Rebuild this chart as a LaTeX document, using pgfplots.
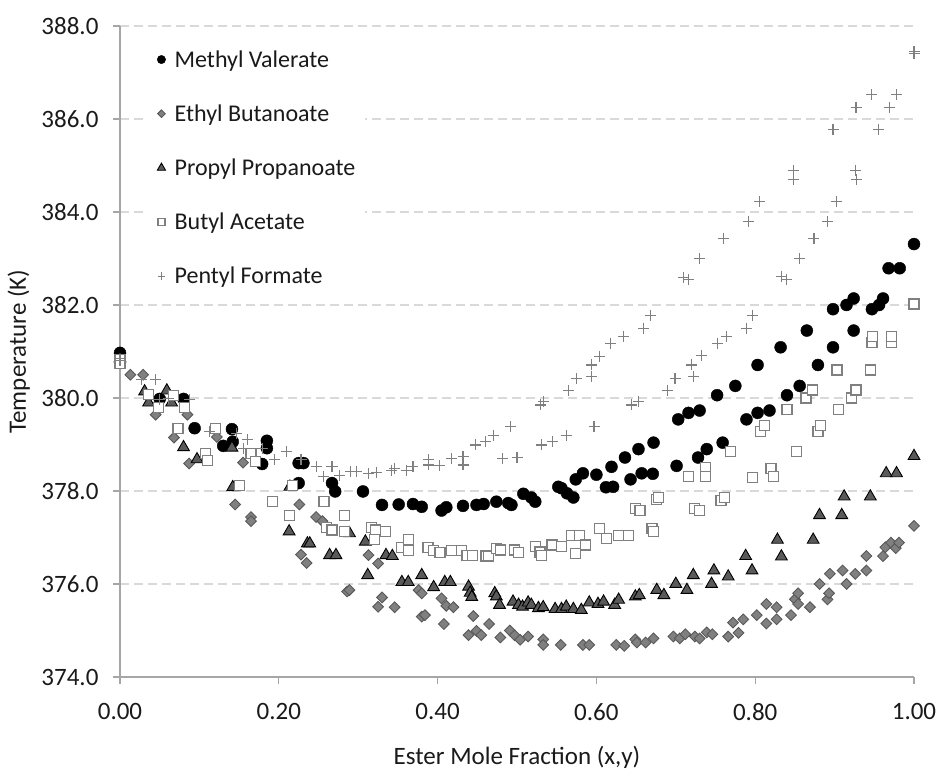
\documentclass[border=0pt]{standalone}
\usepackage{fontspec}
\setmainfont{Carlito}
\usepackage{pgfplots}
\usepackage{pgfplotstable}
\pgfplotsset{compat=1.18}

\definecolor{gridgray}{HTML}{D9D9D9}
\definecolor{axisgray}{HTML}{A6A6A6}
\definecolor{txt}{HTML}{1A1A1A}
\definecolor{midgray}{HTML}{808080}
\definecolor{dkgray}{HTML}{5A5A5A}
\definecolor{edgegray}{HTML}{595959}

% Methyl Valerate
\pgfplotstableread{
x y
0.000 380.97
0.050 379.98
0.080 379.98
0.094 379.35
0.130 378.97
0.141 379.33
0.142 379.06
0.179 378.58
0.185 379.08
0.185 378.92
0.225 378.60
0.231 378.60
0.225 378.17
0.267 378.17
0.271 377.99
0.306 377.99
0.330 377.70
0.351 377.71
0.369 377.72
0.380 377.66
0.405 377.58
0.411 377.65
0.432 377.68
0.449 377.70
0.458 377.72
0.474 377.77
0.489 377.74
0.493 377.70
0.508 377.94
0.518 377.86
0.523 377.77
0.552 378.09
0.556 378.06
0.563 377.95
0.571 377.86
0.574 378.25
0.583 378.38
0.600 378.35
0.612 378.08
0.621 378.09
0.619 378.52
0.636 378.72
0.643 378.25
0.657 378.38
0.671 378.37
0.653 378.90
0.672 379.04
0.701 378.54
0.703 379.54
0.716 379.68
0.730 379.73
0.728 378.72
0.739 378.90
0.752 380.06
0.759 379.04
0.775 380.26
0.789 379.54
0.803 379.68
0.818 379.73
0.803 380.71
0.832 381.09
0.840 380.06
0.856 380.26
0.865 381.45
0.879 380.71
0.898 381.09
0.898 381.91
0.915 382.00
0.924 382.14
0.924 381.45
0.947 381.91
0.956 382.00
0.961 382.14
0.968 382.79
0.982 382.79
1.000 383.31
}\mvdata

% Ethyl Butanoate
\pgfplotstableread{
x y
0.000 380.80
0.013 380.50
0.029 380.50
0.045 379.64
0.068 379.15
0.085 379.64
0.087 378.59
0.122 379.16
0.145 377.71
0.155 378.61
0.165 377.44
0.165 377.35
0.226 377.71
0.228 376.63
0.235 376.45
0.247 377.44
0.255 377.35
0.286 375.84
0.289 375.87
0.313 376.62
0.325 376.44
0.330 375.71
0.325 375.51
0.346 375.50
0.376 375.87
0.380 375.80
0.380 375.30
0.384 375.33
0.405 375.69
0.408 375.14
0.411 375.53
0.420 375.50
0.439 374.90
0.445 375.31
0.449 374.99
0.455 374.90
0.465 375.14
0.479 374.85
0.491 375.00
0.497 374.90
0.504 374.80
0.514 374.87
0.533 374.81
0.533 374.69
0.555 374.69
0.583 374.69
0.591 374.69
0.625 374.69
0.635 374.67
0.649 374.81
0.651 374.74
0.662 374.74
0.672 374.83
0.697 374.87
0.705 374.83
0.712 374.92
0.724 374.87
0.730 374.83
0.739 374.96
0.746 374.92
0.766 374.87
0.772 375.17
0.779 374.95
0.785 375.24
0.802 375.33
0.814 375.15
0.814 375.57
0.827 375.24
0.827 375.50
0.845 375.33
0.850 375.67
0.854 375.80
0.854 375.57
0.869 375.50
0.881 376.00
0.891 375.67
0.893 375.80
0.894 376.22
0.910 376.29
0.915 376.00
0.926 376.22
0.940 376.29
0.940 376.60
0.961 376.60
0.964 376.79
0.971 376.89
0.977 376.77
0.981 376.89
1.000 377.25
}\ebdata

% Propyl Propanoate
\pgfplotstableread{
x y
0.000 380.85
0.031 380.14
0.036 379.90
0.059 380.16
0.065 379.90
0.080 378.94
0.097 378.68
0.141 378.93
0.142 378.08
0.214 378.09
0.213 377.13
0.236 376.87
0.239 376.87
0.264 376.62
0.272 376.62
0.289 377.09
0.309 376.91
0.312 376.19
0.335 376.62
0.343 376.60
0.355 376.04
0.363 376.04
0.380 376.19
0.395 375.93
0.409 376.04
0.416 376.04
0.439 375.94
0.441 375.81
0.443 375.72
0.472 375.80
0.474 375.73
0.478 375.55
0.495 375.62
0.502 375.55
0.507 375.51
0.514 375.60
0.518 375.55
0.527 375.48
0.533 375.50
0.548 375.46
0.556 375.46
0.562 375.51
0.571 375.46
0.581 375.44
0.591 375.60
0.602 375.57
0.609 375.62
0.623 375.55
0.628 375.66
0.649 375.73
0.654 375.76
0.676 375.87
0.685 375.76
0.700 376.00
0.714 375.87
0.722 376.19
0.745 376.00
0.748 376.29
0.766 376.16
0.788 376.60
0.796 376.29
0.828 376.95
0.833 376.59
0.873 376.95
0.881 377.48
0.909 377.48
0.912 377.88
0.945 377.88
0.965 378.38
0.978 378.38
1.000 378.75
}\ppdata

% Butyl Acetate
\pgfplotstableread{
x y
0.000 380.82
0.000 380.75
0.036 380.08
0.048 379.80
0.067 380.06
0.073 379.35
0.081 379.80
0.108 378.81
0.110 378.65
0.120 379.35
0.151 378.11
0.165 378.81
0.171 378.64
0.192 377.77
0.213 377.48
0.217 378.11
0.257 377.77
0.260 377.22
0.267 377.16
0.283 377.48
0.283 377.13
0.317 377.22
0.322 377.16
0.321 376.96
0.334 377.13
0.355 376.79
0.363 376.96
0.363 376.72
0.388 376.79
0.395 376.72
0.403 376.67
0.418 376.72
0.430 376.72
0.437 376.62
0.444 376.62
0.461 376.60
0.464 376.60
0.474 376.77
0.479 376.73
0.497 376.73
0.502 376.67
0.523 376.80
0.529 376.69
0.531 376.62
0.544 376.84
0.556 376.80
0.569 377.05
0.574 376.65
0.579 377.05
0.586 376.84
0.604 377.20
0.613 376.98
0.628 377.05
0.640 377.05
0.649 377.63
0.655 377.58
0.670 377.20
0.672 377.13
0.676 377.81
0.678 377.86
0.716 378.31
0.724 377.63
0.730 377.58
0.737 378.50
0.737 378.32
0.757 377.79
0.761 377.86
0.769 378.85
0.797 378.29
0.807 379.28
0.812 379.40
0.820 378.49
0.823 378.32
0.840 379.76
0.852 378.85
0.864 380.00
0.872 380.17
0.879 379.28
0.882 379.40
0.903 380.60
0.905 379.76
0.921 380.00
0.927 380.17
0.945 380.60
0.947 381.19
0.948 381.33
0.972 381.19
0.972 381.33
1.000 382.02
}\badata

% Pentyl Formate
\pgfplotstableread{
x y
0.000 380.80
0.027 380.39
0.045 380.40
0.050 379.96
0.061 379.99
0.087 379.97
0.113 379.27
0.147 379.24
0.155 378.92
0.161 379.11
0.180 378.92
0.195 378.68
0.210 378.85
0.228 378.68
0.248 378.52
0.256 378.31
0.267 378.52
0.277 378.34
0.290 378.42
0.298 378.42
0.313 378.38
0.323 378.39
0.342 378.45
0.346 378.49
0.361 378.45
0.369 378.52
0.388 378.68
0.388 378.56
0.402 378.54
0.418 378.70
0.432 378.74
0.432 378.56
0.448 378.99
0.460 379.06
0.470 379.20
0.482 378.70
0.492 379.39
0.500 378.72
0.531 378.99
0.545 379.06
0.562 379.20
0.530 379.85
0.533 379.92
0.565 380.17
0.575 380.42
0.594 380.47
0.594 380.71
0.597 379.39
0.604 380.90
0.618 381.18
0.634 381.32
0.644 379.85
0.653 379.92
0.659 381.50
0.668 381.78
0.689 380.17
0.699 380.42
0.710 382.60
0.716 382.55
0.720 380.71
0.722 380.47
0.732 380.91
0.752 381.18
0.764 381.32
0.730 383.00
0.760 383.43
0.789 381.50
0.791 383.79
0.797 381.78
0.805 384.22
0.833 382.62
0.839 382.55
0.848 384.90
0.848 384.69
0.856 383.00
0.874 383.43
0.891 383.79
0.898 385.78
0.902 384.22
0.926 384.90
0.928 384.69
0.927 386.25
0.947 386.52
0.955 385.78
0.969 386.25
0.978 386.52
1.000 387.45
1.000 387.41
}\pfdata

\begin{document}
\begin{tikzpicture}[x=1pt,y=1pt]
\path[use as bounding box] (0,0) rectangle (940,775);
\begin{axis}[
  at={(120pt,98pt)}, anchor=south west,
  scale only axis, width=794pt, height=651pt,
  xmin=0, xmax=1, ymin=374, ymax=388,
  clip=false,
  axis x line*=bottom, axis y line*=left,
  axis line style={axisgray, line width=1.3pt},
  xtick={0,0.2,0.4,0.6,0.8,1},
  ytick={374,376,378,380,382,384,386,388},
  tick align=outside, major tick length=7pt,
  tick style={axisgray, line width=1.3pt},
  ymajorgrids,
  major grid style={gridgray, line width=1.3pt, dash pattern=on 9pt off 5pt},
  ticklabel style={font=\fontsize{25}{29}\selectfont, text=txt},
  /pgf/number format/assume math mode=true,
  xticklabel style={/pgf/number format/.cd, fixed, fixed zerofill, precision=2, /tikz/.cd, yshift=-16pt},
  yticklabel style={/pgf/number format/.cd, fixed, fixed zerofill, precision=1, /tikz/.cd, xshift=-11pt},
  label style={font=\fontsize{25}{29}\selectfont, text=txt},
  xlabel={Ester Mole Fraction (x,y)},
  ylabel={Temperature (K)},
  xlabel style={at={(axis description cs:0.5,-0.1229)}, anchor=center},
  ylabel style={at={(axis description cs:-0.1275,0.5)}, anchor=center},
  legend cell align=left,
  legend style={at={(axis description cs:0.029,0.975)}, anchor=north west,
    draw=none, fill=white, font=\fontsize{24}{28}\selectfont, text=txt,
    row sep=32pt, inner xsep=8pt, inner ysep=6pt},
  legend image code/.code={\path (0pt,0pt) (21pt,0pt);
    \draw[#1,/tikz/every mark/.append style={scale=0.7}] plot coordinates {(10pt,0pt)};},
]
\addplot[only marks, mark=*, mark size=6pt, mark options={fill=black, draw=black}] table {\mvdata};
\addlegendentry{Methyl Valerate}
\addplot[only marks, mark=square*, mark size=3.8pt, mark options={rotate=45, fill=midgray, draw=edgegray, line width=0.9pt}] table {\ebdata};
\addlegendentry{Ethyl Butanoate}
\addplot[only marks, mark=triangle*, mark size=6.8pt, mark options={fill=dkgray, draw=black, line width=0.9pt}] table {\ppdata};
\addlegendentry{Propyl Propanoate}
\addplot[only marks, mark=square*, mark size=5pt, mark options={fill=white, draw=midgray, line width=1.2pt}] table {\badata};
\addlegendentry{Butyl Acetate}
\addplot[only marks, mark=+, mark size=5.5pt, mark options={draw=midgray, line width=1.1pt}] table {\pfdata};
\addlegendentry{Pentyl Formate}
\end{axis}
\end{tikzpicture}
\end{document}
